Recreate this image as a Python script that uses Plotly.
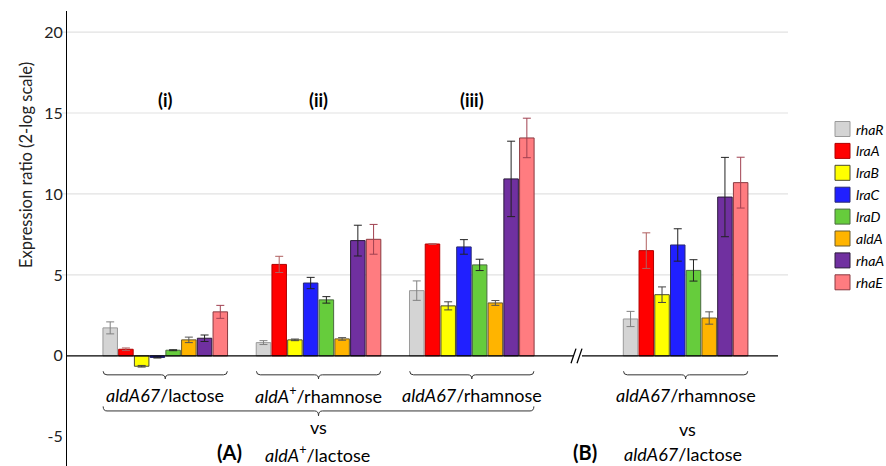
import plotly.graph_objects as go

# ---------------- data ----------------
genes = ["rhaR", "lraA", "lraB", "lraC", "lraD", "aldA", "rhaA", "rhaE"]
group_labels = ["(i)", "(ii)", "(iii)", "B"]
# expression ratio (2-log) per gene for groups (i), (ii), (iii), (B)
values = {
    "rhaR": [1.73, 0.82, 4.03, 2.28],
    "lraA": [0.41, 5.65, 6.91, 6.50],
    "lraB": [-0.64, 0.99, 3.09, 3.78],
    "lraC": [-0.10, 4.50, 6.73, 6.85],
    "lraD": [0.35, 3.46, 5.62, 5.28],
    "aldA": [0.99, 1.05, 3.27, 2.34],
    "rhaA": [1.09, 7.12, 10.93, 9.81],
    "rhaE": [2.72, 7.20, 13.46, 10.70],
}
errors = {
    "rhaR": [0.37, 0.12, 0.60, 0.47],
    "lraA": [0.08, 0.50, 0.02, 1.10],
    "lraB": [0.05, 0.05, 0.25, 0.48],
    "lraC": [0.03, 0.35, 0.45, 1.00],
    "lraD": [0.03, 0.20, 0.35, 0.66],
    "aldA": [0.17, 0.08, 0.15, 0.38],
    "rhaA": [0.20, 0.95, 2.33, 2.45],
    "rhaE": [0.40, 0.92, 1.22, 1.57],
}
y_ticks = [-5, 0, 5, 10, 15, 20]

# ---------------- styling ----------------
colors = {"rhaR": "#d4d4d4", "lraA": "#ff0000", "lraB": "#ffff00", "lraC": "#2020ff",
          "lraD": "#66cc3c", "aldA": "#ffb400", "rhaA": "#7030a0", "rhaE": "#ff7c80"}
line_colors = {"rhaR": "#9a9a9a", "lraA": "#b00000", "lraB": "#4a4a30", "lraC": "#2a2a70",
               "lraD": "#4a6a40", "aldA": "#6a5a30", "rhaA": "#2a1a3a", "rhaE": "#8a3a40"}
err_colors = {"rhaR": "#808080", "lraA": "#b06060", "lraB": "#444444", "lraC": "#222222",
              "lraD": "#222222", "aldA": "#555555", "rhaA": "#222222", "rhaE": "#a04050"}
group_x = [0, 1, 2, 3.395]
FONT = "Lato"
L, R, T, B = 67, 788, 11, 466          # plot area in pixels


def px(xpix):
    return (xpix - L) / (R - L)


def py(ypix):
    return (B - ypix) / (B - T)


fig = go.Figure()
for g in genes:
    fig.add_trace(go.Bar(
        x=group_x, y=values[g], name=g, showlegend=False,
        marker=dict(color=colors[g], line=dict(color=line_colors[g], width=1)),
        error_y=dict(type="data", array=errors[g], color=err_colors[g], thickness=1, width=4),
    ))

shapes = []
# gridlines
for v in [5, 10, 15, 20]:
    shapes.append(dict(type="line", xref="paper", yref="y", x0=px(62), x1=1, y0=v, y1=v,
                       line=dict(color="#e2e2e2", width=1.2), layer="below"))
# zero line with break
shapes.append(dict(type="line", xref="paper", yref="y", x0=0, x1=px(573), y0=0, y1=0,
                   line=dict(color="black", width=1.3)))
shapes.append(dict(type="line", xref="paper", yref="y", x0=px(582), x1=px(778), y0=0, y1=0,
                   line=dict(color="black", width=1.3)))
for dx in [0, 6]:
    shapes.append(dict(type="line", xref="paper", yref="y",
                       x0=px(571 + dx), x1=px(576 + dx), y0=-0.45, y1=0.45,
                       line=dict(color="black", width=1.3)))


def brace(a, b, ytop, yline, ytip, d=0.025):
    m = (a + b) / 2
    return (f"M {a},{ytop} Q {a},{yline} {a + d},{yline} L {m - d},{yline} "
            f"Q {m},{yline} {m},{ytip} Q {m},{yline} {m + d},{yline} "
            f"L {b - d},{yline} Q {b},{yline} {b},{ytop}")


for gx in group_x:
    shapes.append(dict(type="path", xref="x", yref="y",
                       path=brace(gx - 0.405, gx + 0.405, -0.95, -1.17, -1.42),
                       line=dict(color="#333333", width=1)))
shapes.append(dict(type="path", xref="x", yref="y",
                   path=brace(group_x[0] - 0.405, group_x[2] + 0.405, -3.12, -3.40, -3.70),
                   line=dict(color="#333333", width=1)))

ann = []
# y-axis title as rotated annotation (centred like the reference, not on the plot middle)
ann.append(dict(xref="paper", yref="paper", x=px(26), y=py(165), xanchor="center", yanchor="middle",
                text="Expression ratio (2-log scale)",
                textangle=-90, showarrow=False, font=dict(size=16.5, family=FONT, color="#222")))
for gx, lab in zip(group_x[:3], group_labels[:3]):
    ann.append(dict(x=gx, y=15.8, text=f"<b>{lab}</b>", showarrow=False,
                    font=dict(size=18, color="black", family=FONT)))
cond = ["<i>aldA67</i>/lactose", "<i>aldA</i><sup>+</sup>/rhamnose",
        "<i>aldA67</i>/rhamnose", "<i>aldA67</i>/rhamnose"]
TF = dict(size=18, color="black", family=FONT)
for gx, t in zip(group_x, cond):
    ann.append(dict(x=gx, y=-2.4, text=t, showarrow=False, font=TF))
ann.append(dict(x=group_x[1], y=-4.4, text="vs", showarrow=False, font=TF))
ann.append(dict(x=group_x[3] + 0.015, y=-4.5, text="vs", showarrow=False, font=TF))
ann.append(dict(x=0.42, y=-5.95, text="<b>(A)</b>", showarrow=False, font=dict(size=20, color="black", family=FONT)))
ann.append(dict(x=0.994, y=-6.05, text="<i>aldA</i><sup>+</sup>/lactose", showarrow=False, font=TF))
ann.append(dict(x=2.74, y=-5.95, text="<b>(B)</b>", showarrow=False, font=dict(size=20, color="black", family=FONT)))
ann.append(dict(x=3.38, y=-6.05, text="<i>aldA67</i>/lactose", showarrow=False, font=TF))

# legend (drawn swatches + labels)
for i, g in enumerate(genes):
    yc = 129 + 21.9 * i
    shapes.append(dict(type="rect", xref="paper", yref="paper",
                       x0=px(835), x1=px(850), y0=py(yc + 7.5), y1=py(yc - 7.5),
                       fillcolor=colors[g], line=dict(color=line_colors[g], width=1)))
    ann.append(dict(xref="paper", yref="paper", x=px(854), y=py(yc), xanchor="left", yanchor="middle",
                    text=f"<i>{g}</i>", showarrow=False, font=dict(size=14, color="black", family=FONT)))

fig.update_layout(
    width=886, height=466,
    margin=dict(l=L, r=886 - R, t=T, b=466 - B),
    paper_bgcolor="white", plot_bgcolor="white",
    barmode="group", bargap=0.179, bargroupgap=0.078,
    font=dict(family=FONT, color="black"),
    showlegend=False,
    xaxis=dict(range=[-0.641, 4.063], showticklabels=False, showline=False, zeroline=False,
               showgrid=False, ticks=""),
    yaxis=dict(range=[-6.8, 21.3], tickvals=y_ticks, ticktext=[str(t) for t in y_ticks],
               showgrid=False, zeroline=False, showline=True, linecolor="black", linewidth=1,
               ticks="", tickfont=dict(size=16, color="#222", family=FONT)),
    shapes=shapes, annotations=ann,
)

fig.write_html("out.html", config={"displayModeBar": False},
               post_script="document.body.style.margin='0';document.body.style.padding='0';")
